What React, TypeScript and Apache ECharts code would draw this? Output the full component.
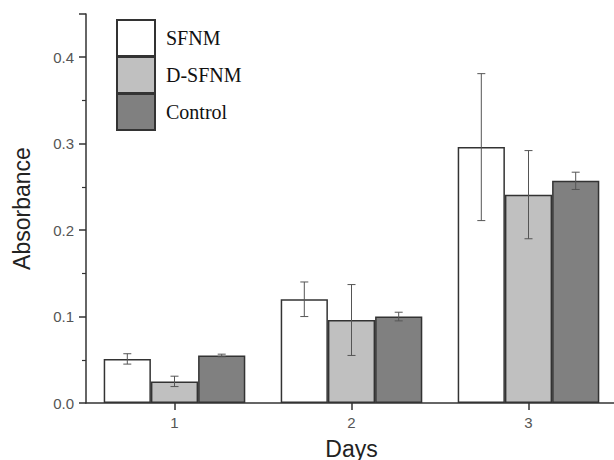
import React, { useEffect, useRef } from "react";
import * as echarts from "echarts";

const days = ["1", "2", "3"];
const seriesNames = ["SFNM", "D-SFNM", "Control"];
const sfnm = [0.051, 0.12, 0.296];
const dsfnm = [0.025, 0.096, 0.241];
const control = [0.055, 0.1, 0.257];
const sfnmErr = [0.006, 0.02, 0.085];
const dsfnmErr = [0.006, 0.041, 0.051];
const controlErr = [0.0015, 0.005, 0.01];

const colors = ["#ffffff", "#c0c0c0", "#808080"];

export default function App() {
  const ref = useRef<HTMLDivElement>(null);
  useEffect(() => {
    if (!ref.current) return;
    const chart = echarts.init(ref.current, undefined, { renderer: "svg" });
    const values = [sfnm, dsfnm, control];
    const errs = [sfnmErr, dsfnmErr, controlErr];
    const errData: number[][] = [];
    values.forEach((vals, s) => {
      vals.forEach((v, c) => {
        errData.push([c, s, v - errs[s][c], v + errs[s][c]]);
      });
    });
    const gapRatio = 0.2;
    chart.setOption({
      animation: false,
      grid: { left: 86, top: 14, right: -3, bottom: 57, containLabel: false, outerBoundsMode: "none" },
      legend: {
        orient: "vertical",
        left: 116,
        top: 19,
        padding: 0,
        itemWidth: 38,
        itemHeight: 36,
        itemGap: -1,
        icon: "rect",
        data: seriesNames,
        textStyle: {
          fontFamily: "'Liberation Serif', 'Times New Roman', serif",
          fontSize: 20,
          color: "#111",
          padding: [0, 0, 0, 6],
        },
      },
      xAxis: {
        type: "category",
        data: days,
        name: "Days",
        nameLocation: "middle",
        nameGap: 34,
        nameTextStyle: { fontFamily: "Arial, 'Liberation Sans', sans-serif", fontSize: 23, color: "#222" },
        axisLine: { lineStyle: { color: "#333", width: 1.5 } },
        axisTick: { show: true, alignWithLabel: true, length: 7, lineStyle: { color: "#333", width: 1.5 } },
        axisLabel: { fontFamily: "Arial, 'Liberation Sans', sans-serif", fontSize: 15, color: "#555", margin: 12 },
        splitLine: { show: false },
      },
      yAxis: {
        type: "value",
        min: 0,
        max: 0.45,
        interval: 0.1,
        name: "Absorbance",
        nameLocation: "middle",
        nameGap: 53,
        nameTextStyle: { fontFamily: "Arial, 'Liberation Sans', sans-serif", fontSize: 23, color: "#222" },
        axisLine: { show: true, lineStyle: { color: "#333", width: 1.5 } },
        axisTick: { show: true, length: 7, lineStyle: { color: "#333", width: 1.5 } },
        minorTick: { show: true, splitNumber: 2, length: 4, lineStyle: { color: "#333", width: 1.2 } },
        axisLabel: {
          fontFamily: "Arial, 'Liberation Sans', sans-serif",
          fontSize: 15,
          color: "#555",
          margin: 12,
          showMaxLabel: false,
          formatter: (v: number) => v.toFixed(1),
        },
        splitLine: { show: false },
      },
      series: [
        ...seriesNames.map((name, i) => ({
          name,
          type: "bar",
          data: values[i],
          barGap: "0%",
          barCategoryGap: "20%",
          itemStyle: { color: colors[i], borderColor: "#333", borderWidth: 1.5 },
          z: 2,
        })),
        {
          type: "custom",
          z: 10,
          silent: true,
          data: errData,
          encode: { x: 0, y: [2, 3] },
          renderItem: (params: any, api: any) => {
            const c = api.value(0);
            const s = api.value(1);
            const lo = api.coord([c, api.value(2)]);
            const hi = api.coord([c, api.value(3)]);
            const band = api.size([1, 0])[0];
            const bw = (band * (1 - gapRatio)) / 3;
            const x = lo[0] + (s - 1) * bw;
            const cap = 4;
            const style = { stroke: "#555", lineWidth: 1 };
            return {
              type: "group",
              children: [
                { type: "line", shape: { x1: x, y1: lo[1], x2: x, y2: hi[1] }, style },
                { type: "line", shape: { x1: x - cap, y1: lo[1], x2: x + cap, y2: lo[1] }, style },
                { type: "line", shape: { x1: x - cap, y1: hi[1], x2: x + cap, y2: hi[1] }, style },
              ],
            };
          },
        },
      ],
    });
    return () => chart.dispose();
  }, []);
  return <div ref={ref} style={{ width: 614, height: 460, position: "absolute", left: 0, top: 0 }} />;
}
